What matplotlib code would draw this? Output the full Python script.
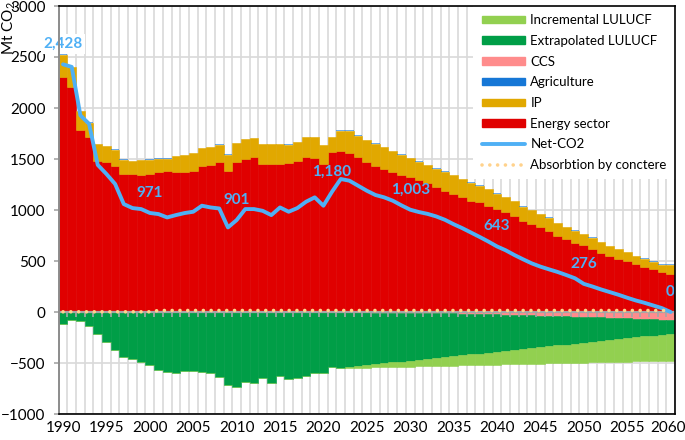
import matplotlib

matplotlib.use("Agg")
import matplotlib.pyplot as plt
import matplotlib.transforms as mtransforms
import numpy as np
from matplotlib.lines import Line2D
from matplotlib.patches import Patch

plt.rcParams["font.family"] = ["Lato", "DejaVu Sans"]
plt.rcParams["mathtext.fontset"] = "custom"
plt.rcParams["mathtext.rm"] = "Lato"

years = np.arange(1990, 2061)

# Mt CO2
energy = [
    2305, 2207, 1780, 1715, 1484, 1468, 1435, 1353, 1350, 1343,
    1350, 1370, 1380, 1370, 1375, 1386, 1435, 1440, 1468, 1386,
    1475, 1501, 1515, 1452, 1452, 1452, 1460, 1480, 1517, 1510,
    1450, 1567, 1575, 1560, 1517, 1468, 1435, 1400, 1370, 1345,
    1320, 1295, 1265, 1230, 1185, 1157, 1124, 1091, 1075, 1042,
    1009, 976, 943, 894, 861, 829, 795, 746, 714, 681,
    654, 622, 583, 549, 524, 500, 467, 445, 418, 392,
    372,
]
ip = [
    217, 195, 187, 142, 163, 159, 157, 139, 127, 144,
    142, 132, 124, 157, 162, 171, 172, 177, 174, 156,
    182, 191, 191, 195, 195, 195, 182, 187, 199, 206,
    184, 149, 203, 218, 212, 215, 213, 213, 208, 198,
    188, 178, 173, 173, 190, 185, 180, 175, 165, 160,
    150, 148, 145, 140, 138, 130, 128, 125, 120, 118,
    110, 105, 102, 96, 92, 86, 82, 78, 76, 72,
    90,
]
agriculture = [4] * 71
ccs = [0] * 32 + [
    -2, -3, -3, -4, -5, -5, -6, -7, -8, -8, -9, -10,
    -12, -14, -16, -18, -20, -22, -24, -26, -28, -31,
    -33, -35, -38, -40, -43, -45, -48, -50, -53, -56,
    -59, -62, -65, -68, -71, -74, -78,
]
extrapolated_lulucf = [
    -113, -74, -84, -140, -215, -297, -369, -441, -461, -494,
    -520, -569, -592, -595, -580, -580, -585, -600, -640, -720,
    -735, -690, -700, -650, -695, -628, -655, -645, -630, -595,
    -595, -540, -546, -537, -528, -518, -508, -499, -489, -480,
    -470, -461, -451, -441, -430, -420, -409, -398, -387, -376,
    -366, -355, -344, -332, -321, -311, -299, -288, -276, -265,
    -254, -243, -231, -219, -207, -196, -184, -172, -160, -148,
    -136,
]
incremental_lulucf = [0] * 32 + [
    -4, -10, -17, -24, -31, -38, -45, -51, -58, -65,
    -72, -79, -86, -92, -99, -106, -113, -120, -126, -133,
    -140, -147, -154, -160, -167, -174, -181, -188, -194, -201,
    -208, -215, -222, -228, -235, -242, -249, -256, -263,
]
net_co2 = [
    2428, 2403, 1927, 1845, 1442, 1353, 1255, 1058, 1019, 1009,
    971, 960, 927, 950, 970, 983, 1042, 1025, 1015, 829,
    901, 1009, 1009, 992, 950, 1025, 983, 1019, 1081, 1124,
    1042, 1180, 1304, 1287, 1238, 1189, 1147, 1124, 1091, 1045,
    1003, 980, 962, 937, 904, 861, 822, 779, 736, 691,
    643, 605, 559, 517, 477, 445, 418, 392, 362, 330,
    276, 250, 221, 195, 169, 140, 113, 90, 64, 38,
    0,
]
concrete = [
    2, 2, 2, 2, 2, 2, 2, 2, 2, 2, 2,
    15, 15, 15, 15, 15, 15, 15, 15, 15, 15,
    15, 15, 15, 15, 15, 15, 15, 15, 15, 15,
    15, 15, 15, 15, 15, 15, 15, 15, 15, 15,
    15, 15, 15, 15, 15, 15, 15, 15, 15, 15,
    15, 15, 15, 15, 15, 15, 15, 15, 15, 15,
    15, 15, 15, 15, 15, 15, 15, 15, 15, 15,
]
label_years = [1990, 2000, 2010, 2021, 2030, 2040, 2050, 2060]
label_texts = ["2,428", "971", "901", "1,180", "1,003", "643", "276", "0"]

C_ENERGY = "#E00000"
C_IP = "#E1A800"
C_AGRI = "#1677D6"
C_CCS = "#FF8C8C"
C_EXTRA = "#009E47"
C_INCR = "#92D050"
C_NET = "#4FB0F5"
C_CONC = "#FFD28C"
C_GRID = "#D9D9D9"
C_AXIS = "#A6A6A6"
FS = 11

fig = plt.figure(figsize=(6.85, 4.4), dpi=100)
ax = fig.add_axes([58.7 / 685, 1 - 414 / 440, 616.2 / 685, 408 / 440])

energy = np.array(energy)
ip = np.array(ip)
agriculture = np.array(agriculture)
ccs = np.array(ccs)
extrapolated_lulucf = np.array(extrapolated_lulucf)
incremental_lulucf = np.array(incremental_lulucf)

bar_kw = dict(width=1.0, linewidth=0.4, zorder=2)
ax.bar(years, energy, color=C_ENERGY, edgecolor=C_ENERGY, **bar_kw)
ax.bar(years, ip, bottom=energy, color=C_IP, edgecolor=C_IP, **bar_kw)
ax.bar(years, agriculture, bottom=energy + ip, color=C_AGRI, edgecolor="none", width=1.0, linewidth=0,
       alpha=0.6, zorder=2)
ax.bar(years, ccs, color=C_CCS, edgecolor=C_CCS, **bar_kw)
ax.bar(years, extrapolated_lulucf, bottom=ccs, color=C_EXTRA, edgecolor=C_EXTRA, **bar_kw)
ax.bar(years, incremental_lulucf, bottom=ccs + extrapolated_lulucf, color=C_INCR, edgecolor=C_INCR, **bar_kw)

# gridlines, category boundaries and the zero axis with its tick marks
bounds = np.arange(years[0] - 0.5, years[-1] + 1)
ax.vlines(bounds, -1000, 3000, color=C_GRID, lw=1.2, zorder=0)
ax.set_yticks(np.arange(-1000, 3001, 500))
ax.yaxis.grid(True, color=C_GRID, lw=1.2)
ax.set_axisbelow(True)
ax.axhline(0, color=C_AXIS, lw=1.6, zorder=5)
ax.vlines(bounds, -50, 0, color=C_AXIS, lw=1.2, zorder=5)

ax.plot(years, net_co2, color=C_NET, lw=2.8, zorder=6, solid_joinstyle="round", solid_capstyle="round")
ax.plot(years, concrete, color=C_CONC, lw=2.6, linestyle=(0, (0.01, 2.15)), dash_capstyle="round", zorder=7)

for yr, txt in zip(label_years, label_texts):
    ann = ax.annotate(
        txt, (yr, net_co2[yr - years[0]]), xytext=(0, 14.5), textcoords="offset points",
        ha="center", va="center", color=C_NET, fontweight="bold", fontsize=FS, zorder=8,
    )
    if yr == 1990:
        ann.set_bbox(dict(facecolor="white", edgecolor="none", pad=2))

ax.set_xlim(years[0] - 0.5, years[-1] + 0.5)
ax.set_ylim(-1000, 3000)
ax.set_xticks(years[::5])
ax.set_xticklabels([str(y) for y in years[::5]])
ax.tick_params(axis="x", length=0, pad=5, labelsize=FS)
ax.tick_params(axis="y", length=3.6, color=C_AXIS, width=1.2, pad=6, labelsize=FS)
# keep the last year label inside the figure
last = ax.get_xticklabels()[-1]
last.set_transform(last.get_transform() + mtransforms.ScaledTranslation(-3 / 100, 0, fig.dpi_scale_trans))

for side in ["top", "right", "bottom"]:
    ax.spines[side].set_color("black")
    ax.spines[side].set_linewidth(1.2)
ax.spines["left"].set_color("#8C8C8C")
ax.spines["left"].set_linewidth(1.4)
for sp in ax.spines.values():
    sp.set_zorder(10)

fig.text(9 / 685, 0.997, "Mt CO$_2$", rotation=90, ha="center", va="top", fontsize=FS)

handles = [
    Patch(color=C_INCR, label="Incremental LULUCF"),
    Patch(color=C_EXTRA, label="Extrapolated LULUCF"),
    Patch(color=C_CCS, label="CCS"),
    Patch(color=C_AGRI, label="Agriculture"),
    Patch(color=C_IP, label="IP"),
    Patch(color=C_ENERGY, label="Energy sector"),
    Line2D([], [], color=C_NET, lw=2.8, solid_capstyle="round", label="Net-CO2"),
    Line2D([], [], color=C_CONC, lw=2.6, linestyle=(0, (0.01, 2.15)), dash_capstyle="round",
           label="Absorbtion by conctere"),
]
leg = ax.legend(
    handles=handles, loc="upper right", bbox_to_anchor=(1, 1), borderaxespad=0,
    frameon=True, facecolor="white", edgecolor="none", framealpha=1, fancybox=False,
    fontsize=9.5, handlelength=3.3, handleheight=0.5, handletextpad=0.4,
    labelspacing=0.66, borderpad=0.62,
)
leg.set_zorder(9)

fig.savefig("out.png", dpi=100)
